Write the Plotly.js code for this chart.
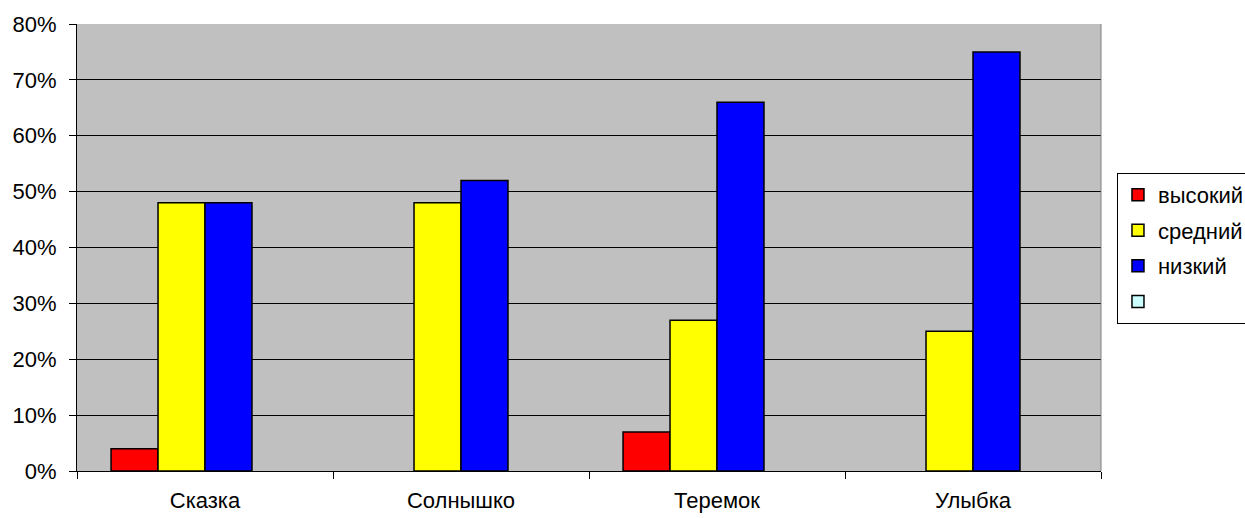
<!DOCTYPE html>
<html>
<head>
<meta charset="utf-8">
<script src="https://cdn.plot.ly/plotly-3.0.1.min.js"></script>
<style>html,body{margin:0;padding:0;background:#fff;overflow:hidden}#chart{width:1245px;height:518px}</style>
</head>
<body>
<div id="chart"></div>
<script>
var categories = ["Сказка", "Солнышко", "Теремок", "Улыбка"];
var seriesNames = ["высокий", "средний", "низкий", " "];
var high = [0.04, null, 0.07, null];
var medium = [0.48, 0.48, 0.27, 0.25];
var low = [0.48, 0.52, 0.66, 0.75];
var empty = [null, null, null, null];
var yTicks = [0, 0.1, 0.2, 0.3, 0.4, 0.5, 0.6, 0.7, 0.8];

var colors = ["#FF0000", "#FFFF00", "#0000FF", "#CCFFFF"];
var values = [high, medium, low, empty];

var traces = values.map(function (v, i) {
  return {
    type: "bar",
    name: seriesNames[i],
    legendgroup: "g" + i,
    x: categories,
    y: v,
    marker: { color: colors[i], line: { color: "#000", width: 1.5 } },
    hoverinfo: "none"
  };
});

var layout = {
  width: 1245,
  height: 518,
  margin: { l: 77, r: 144, t: 24, b: 47, autoexpand: false },
  paper_bgcolor: "#FFFFFF",
  plot_bgcolor: "#C0C0C0",
  barmode: "group",
  bargap: 0.266,
  bargroupgap: 0,
  font: { family: "Liberation Sans, Arial, sans-serif", size: 22, color: "#000" },
  xaxis: {
    type: "category",
    tickson: "boundaries",
    ticks: "outside",
    ticklen: 7,
    tickcolor: "#000",
    showline: true,
    linecolor: "#000",
    linewidth: 1,
    showgrid: false,
    tickfont: { size: 22 },
    ticklabelstandoff: 10,
    mirror: false
  },
  yaxis: {
    range: [0, 0.8],
    tickvals: yTicks,
    tickformat: ".0%",
    ticks: "outside",
    ticklen: 7,
    tickcolor: "#000",
    showline: true,
    linecolor: "#000",
    linewidth: 1,
    showgrid: true,
    gridcolor: "#000",
    gridwidth: 1,
    zeroline: false,
    tickfont: { size: 22 },
    ticklabelstandoff: 8
  },
  shapes: [
    { type: "line", xref: "paper", yref: "paper", x0: 1, x1: 1, y0: 0, y1: 1, line: { color: "#808080", width: 1 } }
  ],
  showlegend: true,
  legend: {
    x: 1.0156,
    y: 0.667,
    xanchor: "left",
    yanchor: "top",
    bgcolor: "#FFFFFF",
    bordercolor: "#000",
    borderwidth: 1,
    font: { size: 22 },
    traceorder: "grouped",
    tracegroupgap: 4,
    itemclick: false
  }
};

Plotly.newPlot("chart", traces, layout, { staticPlot: true });
</script>
</body>
</html>
